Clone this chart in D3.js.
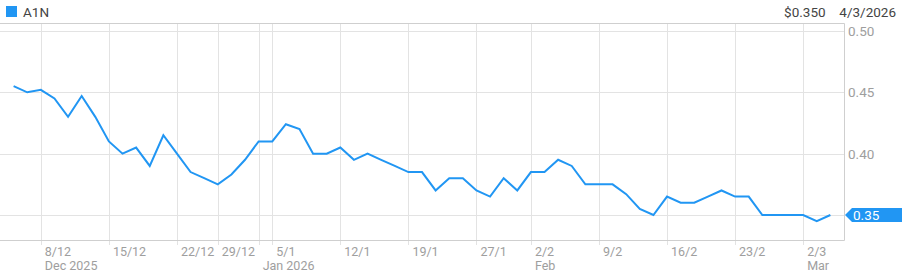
<!DOCTYPE html>
<html>
<head>
<meta charset="utf-8">
<script src="https://cdn.jsdelivr.net/npm/d3@7"></script>
<style>
  body { margin: 0; background: #fff; }
  svg { display: block; font-family: Roboto, "Noto Sans", sans-serif; }
</style>
</head>
<body>
<svg width="902" height="272"></svg>
<script>
// trading days (weekends / holidays left out, so the x axis runs on day index)
const dates = [
  "2025-12-04", "2025-12-05",
  "2025-12-08", "2025-12-09", "2025-12-10", "2025-12-11", "2025-12-12",
  "2025-12-15", "2025-12-16", "2025-12-17", "2025-12-18", "2025-12-19",
  "2025-12-22", "2025-12-23", "2025-12-24",
  "2025-12-29", "2025-12-30", "2025-12-31", "2026-01-02",
  "2026-01-05", "2026-01-06", "2026-01-07", "2026-01-08", "2026-01-09",
  "2026-01-12", "2026-01-13", "2026-01-14", "2026-01-15", "2026-01-16",
  "2026-01-19", "2026-01-20", "2026-01-21", "2026-01-22", "2026-01-23",
  "2026-01-27", "2026-01-28", "2026-01-29", "2026-01-30",
  "2026-02-02", "2026-02-03", "2026-02-04", "2026-02-05", "2026-02-06",
  "2026-02-09", "2026-02-10", "2026-02-11", "2026-02-12", "2026-02-13",
  "2026-02-16", "2026-02-17", "2026-02-18", "2026-02-19", "2026-02-20",
  "2026-02-23", "2026-02-24", "2026-02-25", "2026-02-26", "2026-02-27",
  "2026-03-02", "2026-03-03", "2026-03-04"
];

const prices = [
  0.455, 0.450,
  0.452, 0.445, 0.430, 0.447, 0.430,
  0.410, 0.400, 0.405, 0.390, 0.415,
  0.400, 0.385, 0.380,
  0.375, 0.383, 0.395, 0.410,
  0.410, 0.424, 0.420, 0.400, 0.400,
  0.405, 0.395, 0.400, 0.395, 0.390,
  0.385, 0.385, 0.370, 0.380, 0.380,
  0.370, 0.365, 0.380, 0.370,
  0.385, 0.385, 0.395, 0.390, 0.375,
  0.375, 0.375, 0.367, 0.355, 0.350,
  0.365, 0.360, 0.360, 0.365, 0.370,
  0.365, 0.365, 0.350, 0.350, 0.350,
  0.350, 0.345, 0.350
];

// gridline dates, label on top row, month label on second row
const tickDates = ["2025-12-08", "2025-12-15", "2025-12-22", "2025-12-29", "2026-01-02",
  "2026-01-05", "2026-01-12", "2026-01-19", "2026-01-27", "2026-02-02", "2026-02-09",
  "2026-02-16", "2026-02-23", "2026-03-02"];
const tickLabels = ["8/12", "15/12", "22/12", "29/12", "", "5/1", "12/1", "19/1", "27/1",
  "2/2", "9/2", "16/2", "23/2", "2/3"];
const monthLabels = ["Dec 2025", "", "", "", "Jan 2026", "", "", "", "", "Feb", "", "", "", "Mar"];

const yTicks = [0.35, 0.40, 0.45, 0.50];

const ticker = "A1N", lastPrice = "$0.350", lastDate = "4/3/2026";

const blue = "#2196f3";
const svg = d3.select("svg");

const plotLeft = 0, plotRight = 844, plotTop = 23, plotBottom = 240;

const x = d3.scaleLinear().domain([-1, dates.length]).range([plotLeft, plotRight]);
const y = d3.scaleLinear().domain([0.35, 0.50]).range([215, 31]);

const idx = d => dates.indexOf(d);

// grid
let grid = svg.append("g");
grid.selectAll(".hg").data(yTicks).enter().append("line")
  .attr("x1", plotLeft).attr("x2", plotRight)
  .attr("y1", d => Math.round(y(d)) + 0.5).attr("y2", d => Math.round(y(d)) + 0.5)
  .attr("stroke", "#e3e3e3");

grid.selectAll(".vg").data(tickDates).enter().append("line")
  .attr("x1", d => Math.round(x(idx(d))) + 0.5).attr("x2", d => Math.round(x(idx(d))) + 0.5)
  .attr("y1", plotTop).attr("y2", plotBottom + 5)
  .attr("stroke", "#e3e3e3");

// frame: top, right, bottom
svg.append("path")
  .attr("d", `M${plotLeft},${plotTop + 0.5}H${plotRight + 0.5}V${plotBottom + 0.5}H${plotLeft}`)
  .attr("fill", "none")
  .attr("stroke", "#cfcfcf");

// x labels
let xl = svg.append("g").attr("fill", "#9e9e9e").attr("font-size", 12.5);
xl.selectAll(".t").data(tickDates).enter().append("text")
  .attr("x", d => x(idx(d)) + 4).attr("y", 256)
  .text((d, i) => tickLabels[i]);
xl.selectAll(".m").data(tickDates).enter().append("text")
  .attr("x", d => x(idx(d)) + 4).attr("y", 270)
  .text((d, i) => monthLabels[i]);

// y labels
svg.append("g").attr("fill", "#9e9e9e").attr("font-size", 13.5)
  .selectAll("text").data(yTicks.filter(d => d !== 0.35)).enter().append("text")
  .attr("x", 848).attr("y", d => y(d)).attr("dy", "0.36em")
  .text(d => d.toFixed(2));

// price line
const line = d3.line()
  .x((d, i) => x(i))
  .y(d => y(d));

svg.append("path")
  .datum(prices)
  .attr("d", line)
  .attr("fill", "none")
  .attr("stroke", blue)
  .attr("stroke-width", 2)
  .attr("stroke-linejoin", "miter");

// last price marker
const last = prices[prices.length - 1];
const ly = y(last);
svg.append("path")
  .attr("d", `M845,${ly}L852,${ly - 7}H902V${ly + 7}H852Z`)
  .attr("fill", blue);
svg.append("text")
  .attr("x", 853).attr("y", ly).attr("dy", "0.36em")
  .attr("fill", "#fff").attr("font-size", 13.5)
  .text(last.toFixed(2));

// header
svg.append("rect").attr("x", 6).attr("y", 6).attr("width", 11).attr("height", 11).attr("fill", blue);
svg.append("text").attr("x", 23).attr("y", 16.5).attr("font-size", 13.5).attr("fill", "#444")
  .text(ticker);
svg.append("text").attr("x", 896).attr("y", 16.5).attr("font-size", 13.5).attr("fill", "#444")
  .attr("text-anchor", "end")
  .text(lastPrice + "\u2003" + lastDate);
</script>
</body>
</html>
